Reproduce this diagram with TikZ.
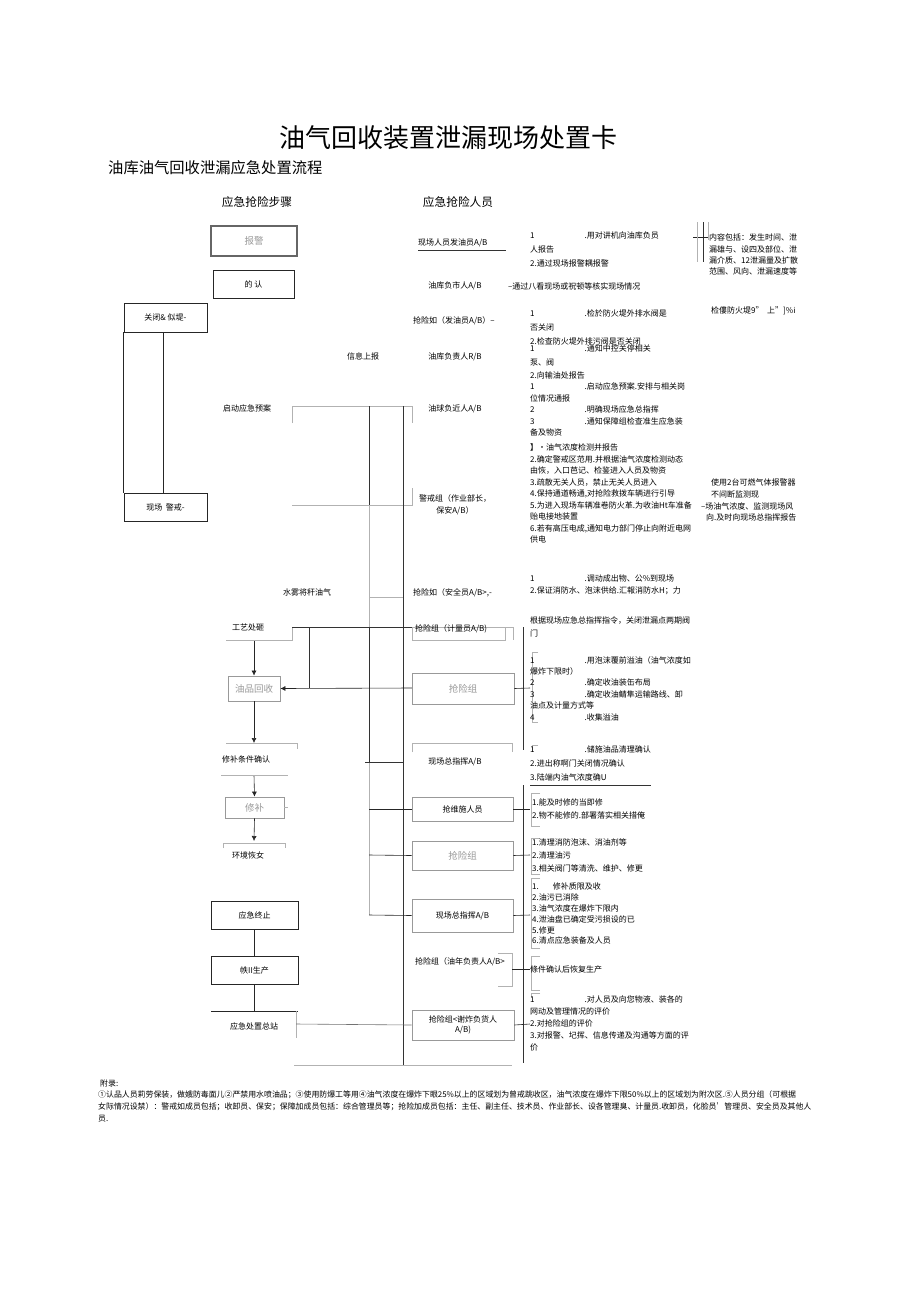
\documentclass[tikz,border=0pt]{standalone}
\usepackage{fontspec}
\setmainfont{Noto Sans CJK SC}
\usetikzlibrary{arrows.meta,calc}
\newcommand\gapx{\hspace*{50pt}}
\begin{document}
\begin{tikzpicture}[x=1pt,y=-1pt,
  box/.style={draw=black!85,line width=0.6pt,inner sep=0pt,font=\fontsize{8}{9}\selectfont},
  gbox/.style={draw=black!40,line width=0.8pt,inner sep=0pt,text=black!40,font=\fontsize{9.5}{10}\selectfont},
  t/.style={inner sep=0pt,font=\fontsize{8}{9}\selectfont},
  tw/.style={t,anchor=west},
  blk/.style={inner sep=0pt,anchor=north west,align=left,font=\fontsize{8}{#1}\selectfont},
  ln/.style={line width=0.6pt,black!85},
  dk/.style={line width=0.9pt,black!80},
  gl/.style={line width=0.6pt,black!30},
  arr/.style={ln,-{Latex[length=5pt,width=5pt]}},
]
\useasboundingbox (0,0) rectangle (920,1301);
\fill[white] (0,0) rectangle (920,1301);

% titles
\node[inner sep=0pt,font=\fontsize{26}{28}\selectfont] (title) at (448,138) {油气回收装置泄漏现场处置卡};
\node[inner sep=0pt,anchor=west,font=\fontsize{15.3}{16}\selectfont] (sub) at (108,168) {油库油气回收泄漏应急处置流程};
\node[inner sep=0pt,font=\fontsize{11.7}{12}\selectfont] (h1) at (257,202) {应急抢险步骤};
\node[inner sep=0pt,font=\fontsize{11.7}{12}\selectfont] (h2) at (458,202) {应急抢险人员};

% left step boxes
\node[gbox,draw=black!60,line width=1.1pt,minimum width=86pt,minimum height=30pt] (bj) at (254,241) {报警};
\node[box,minimum width=81pt,minimum height=28pt] (qr) at (253.5,284) {的 认};
\node[box,minimum width=83pt,minimum height=29pt] (gb) at (165.5,317.5) {关闭\& 似堤-};
\node[box,minimum width=83pt,minimum height=28pt] (jj) at (165.5,507) {现场\ \ 警戒-};
\node[gbox,minimum width=52pt,minimum height=25pt] (yp) at (254,688.5) {油品回收};
\node[gbox,minimum width=59pt,minimum height=21pt] (xb) at (254.5,807.5) {修补};
\node[box,minimum width=87pt,minimum height=28pt] (zz) at (254.5,915) {应急终止};
\node[box,minimum width=87pt,minimum height=28pt] (hf) at (254.5,970) {帙II生产};

\draw[ln] (gb.south west) -- (jj.north west);
\draw[ln] ($(gb.south)+(-2.5,0)$) -- ($(jj.north)+(-2.5,0)$);
\draw[ln] (zz.south) -- (hf.north);
\coordinate (zs) at (254.5,1011);
\draw[ln] (hf.south) -- (zs);
\draw[ln] (211,1011) -- (298,1011);

% left texts
\node[t] (xx) at (363,356) {信息上报};
\node[t] (qd) at (247,408) {启动应急预案};
\node[t] (sw) at (307,592) {水雾将秆油气};
\node[tw] (gy) at (232,627) {工艺处砸};
\node[t] (xbqr) at (246,759) {修补条件确认};
\node[t] (hj) at (248,855) {环境恢女};
\node[t] (zzz) at (254,1026) {应急处置总站};

% left arrows
\coordinate (gyb) at (254,640);
\draw[arr] (gyb) -- (yp.north);
\coordinate (xq1) at (254,743);
\draw[arr] (yp.south) -- (xq1);
\coordinate (xq2) at (254,775);
\draw[arr] (xq2) -- (xb.north);
\coordinate (hj1) at (254,841);
\draw[arr] (xb.south) -- (hj1);

% brackets round left texts
\draw[gl] (226,640) -- (292,640) -- (292,627);
\draw[gl] (226,743) -- (297,743) -- (297,749);
\draw[gl] (221,775) -- (288,775);
\draw[gl] (223,848) -- (223,843) -- (285,843) -- (285,848);
\draw[gl] (xb.east) -- ++(4,0);

% middle trunk lines
\draw[gl] (292,423) -- (292,406) -- (412,406) -- (412,423);
\draw[gl] (292,505) -- (412,505) -- (412,488);
\draw[dk] (369,406) -- (369,505);
\draw[gl] (369,505) -- (369,627);
\draw[dk] (369,627) -- (369,762);
\draw[gl] (369,762) -- (369,915);
\draw[dk] (403,406) -- (403,1066);
\draw[gl] (369,597) -- (403,597);
\draw[dk] (292,627) -- (412,627);
\draw[dk] (309,627) -- (309,688);
\coordinate (qxl) at (412,688);
\draw[arr] (qxl) -- (yp.east);
\draw[dk] (365,762) -- (403,762);

% middle personnel
\node[tw] (p1) at (418,243) {现场人员发油员A/B};
\draw[dk] (418,250) -- (506,250);
\node[t] (p2) at (455,286) {油库负市人A/B};
\node[tw] (p2b) at (508,286) {--通过八看现场或祝顿等核实现场情况};
\node[tw] (p3) at (413,321) {抢险如（发油员A/B）--};
\node[t] (p4) at (455,357) {油库负责人R/B};
\node[t] (p5) at (455,409) {油球负近人A/B};
\node[t,align=center,font=\fontsize{8}{12}\selectfont] (p6) at (455,505) {警戒组（作业部长，\\保安A/B）};
\node[tw] (p7) at (413,593) {抢险如（安全员A/B>,-};

\draw[gl] (412,627) rectangle (505,640);
\draw[gl] (505,627) -- (513,627) -- (513,640);
\node[tw] (m1) at (415,629) {抢险组（计量员A/B)};
\node[gbox,minimum width=102pt,minimum height=31pt] (qx1) at (463,688.5) {抢险组};
\draw[gl] (412,752) -- (412,743) -- (512,743) -- (512,752);
\node[t] (zh1) at (455,762) {现场总指挥A/B};
\node[box,draw=black!40,line width=0.8pt,minimum width=101pt,minimum height=24pt] (wx) at (462.5,809) {抢维施人员};
\node[gbox,minimum width=101pt,minimum height=29pt] (qx2) at (462.5,855.5) {抢险组};
\node[box,draw=black!40,line width=0.8pt,minimum width=101pt,minimum height=33pt] (zh2) at (462.5,915.5) {现场总指挥A/B};
\node[tw] (qx3) at (415,962) {抢险组（油年负责人A/B>};
\draw[gl] (498,953) -- (512,953) -- (512,986) -- (498,986);
\node[box,draw=black!40,line width=0.8pt,minimum width=102pt,minimum height=30pt,align=center,font=\fontsize{8}{10}\selectfont] (qx4) at (463,1025) {抢险组<谢炸负货人\\A/B)};

\coordinate (c809) at (369,809);
\coordinate (c855) at (369,855);
\coordinate (c915) at (369,915);
\draw[ln] (c809) -- (wx.west);
\draw[ln] (c855) -- (qx2.west);
\draw[ln] (c915) -- (zh2.west);
\draw[gl] (296,1011) -- (296,1038);
\coordinate (c1024) at (296,1024);
\draw[ln,black!55] (c1024) -- (qx4.west);
\draw[gl] (294,1065) -- (512,1065);

% right trunk
\draw[dk] (523,627) -- (523,750);
\draw[dk] (523,785) -- (523,1063);
\draw[ln] (qx1.east) -- (530,688);
\draw[ln] (wx.east) -- (530,809);
\draw[ln] (qx2.east) -- (530,855);
\draw[ln] (zh2.east) -- (530,915);
\draw[ln] (512,969) -- (530,969);
\draw[ln] (qx4.east) -- (530,1024);

% right text brackets
\draw[gl] (538,652) -- (532,652) -- (532,722) -- (538,722);
\draw[gl] (538,745) -- (532,745) -- (532,752);
\draw[gl] (540,793) -- (531,793) -- (531,826) -- (540,826);
\draw[gl] (540,838) -- (531,838) -- (531,874) -- (540,874);
\draw[gl] (540,878) -- (531,878) -- (531,948) -- (540,948);
\draw[gl] (540,956) -- (531,956) -- (531,990) -- (540,990);
\draw[gl] (540,993) -- (531,993) -- (531,998);

% right texts
\node[blk=14] (r1) at (530,232) {1\gapx.用对讲机向油库负员\\人报告\\2.通过现场报警耦报警};
\node[blk=11.3] (r1f) at (709,234) {内容包括：发生时间、泄\\漏雄与、设四及部位、泄\\漏介质、12泄漏量及扩散\\范围、风向、泄漏速度等};
\draw[dk] (703,222) -- (703,262);
\draw[ln] (693,237) -- (708,237);
\draw[gl] (697,222) -- (697,262);
\draw[gl] (708,222) -- (708,240);
\node[blk=14] (r2) at (530,310) {1\gapx.检於防火堤外排水阀是\\否关闭\\2.检查防火堤外排污阀是否关闭};
\node[tw] (r2f) at (711,311) {检僂防火堤9”\ \ 上”]\%i};
\node[blk=13.5] (r3) at (530,345) {1\gapx.通知中控关停相关\\泵、阀\\2.向输油处报告};
\node[blk=11.6] (r4) at (530,382.5) {1\gapx.启动应急预案.安排与相关岗\\位情况通报\\2\gapx.明确现场应急总指挥\\3\gapx.通知保障组检查准生应急装\\备及物资};
\node[blk=11.5] (r5) at (530,444) {】•油气浓度检测并报告\\2.确定警戒区范用.并根据油气浓度检测动态\\由恢，入口芭记、检鉴进入人员及物资\\3.疏散无关人员，禁止无关人员进入\\4.保持通道畅通,对抢险救拨车辆进行引导\\5.为进入现场车辆准卷防火革.为收油Ht车准备\\贻电接地装置\\6.若有高压电成,通知电力部门停止向附近电网\\供电};
\node[tw] (r5a) at (711,482) {使用2台可燃气体报警器};
\node[tw] (r5b) at (711,494) {不间断监测现};
\node[tw] (r5c) at (701,506) {--场油气浓度、监测现场风};
\node[tw] (r5d) at (706,517) {向.及时向现场总指挥报告};
\node[blk=11.5] (r6) at (530,575) {1\gapx.调动成出物、公\%到现场\\2.保证消防水、泡沫供给.汇報消防水H；力};
\node[blk=13] (r7) at (530,617) {根据现场应急总指挥指令，关闭泄漏点两期阀\\门};
\node[blk=11.4] (r8) at (530,656) {1\gapx.用泡沫覆前溢油（油气浓度如\\爆炸下限时）\\2\gapx.确定收油装缶布局\\3\gapx.确定收油鲭隼运输路线、卸\\油点及计量方式等\\4\gapx.收集溢油};
\node[blk=14] (r9) at (530,746) {1\gapx.储施油品清理确认\\2.进出称啊门关闭情况确认\\3.陆端内油气浓度确U};
\draw[dk] (530,785) -- (651,785);
\node[blk=13] (r10) at (532,799) {1.能及时修的当即修\\2.物不能修的.部署落实相关措俺};
\node[blk=13] (r11) at (532,839) {1.清理消防泡沫、消油剂等\\2.清理油污\\3.相关阀门等清洗、维护、修更};
\node[blk=10.8] (r12) at (532,883) {1.\hspace*{14pt}修补质限及收\\2.油污已消除\\3.油气浓度在爆炸下限内\\4.泄油盘已确定受污损设的已\\5.修更\\6.清点应急装备及人员};
\node[tw] (r13) at (530,969) {條件确认后恢复生产};
\node[blk=12] (r14) at (530,996) {1\gapx.对人员及向您物液、装各的\\网动及管理情况的评价\\2.对抢险组的评价\\3.对报警、圮挥、信息传递及沟通等方面的评\\价};

% footnote
\node[inner sep=0pt,anchor=west,font=\fontsize{7.9}{8}\selectfont] (f0) at (100,1083) {附录:};
\node[inner sep=0pt,anchor=west,font=\fontsize{7.9}{8}\selectfont] (f1) at (98,1095) {①认品人员莉劳保装，做娥防毒面儿②严禁用水喷油品；③使用防爆工等用④油气浓度在爆炸下眼25\%以上的区域划为曾戒跳收区，油气浓度在爆炸下限50\%以上的区域划为附次区.⑤人员分组（可根据};
\node[inner sep=0pt,anchor=west,font=\fontsize{7.9}{8}\selectfont] (f2) at (98,1107) {女际情况设禁）：警戒如成员包括；收卸员、保安；保障加成员包括：综合管理员等；抢险加成员包括：主任、副主任、技术员、作业部长、设各管理臭、计量员.收卸员，化脸员'管理员、安全员及其他人};
\node[inner sep=0pt,anchor=west,font=\fontsize{7.9}{8}\selectfont] (f3) at (98,1119) {员.};
\end{tikzpicture}
\end{document}
